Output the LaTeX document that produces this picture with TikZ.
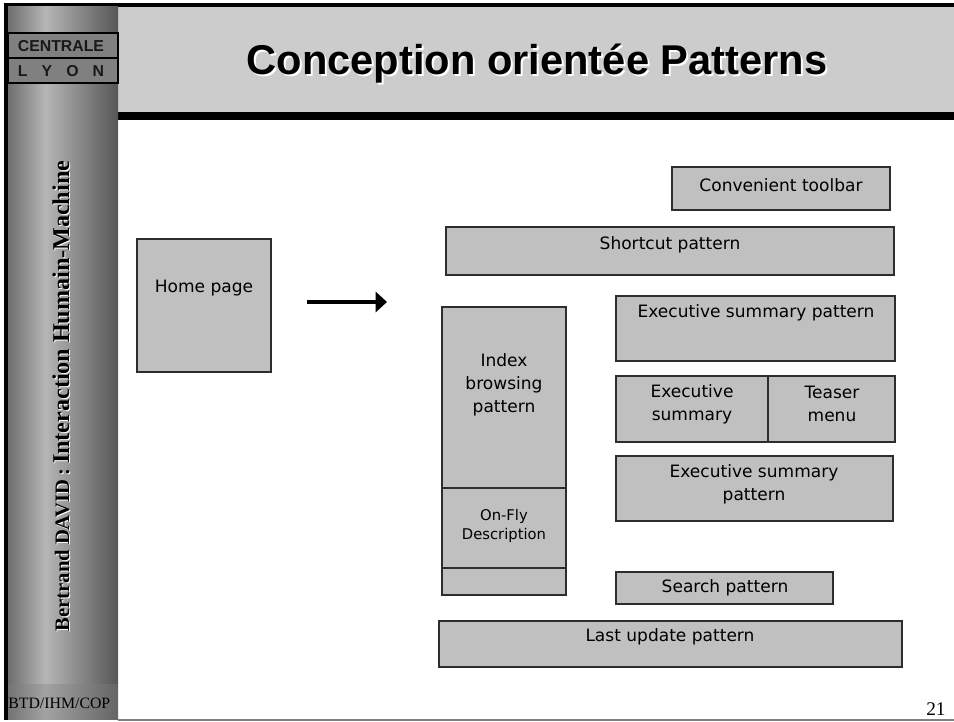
\documentclass[tikz,border=0pt]{standalone}
\usepackage{fontspec}
\setmainfont{Liberation Serif}
\newfontfamily\boxfont{DejaVu Sans}
\newfontfamily\headfont{Liberation Sans}
\usetikzlibrary{arrows.meta}
\definecolor{titlegray}{RGB}{204,204,204}
\definecolor{boxgray}{RGB}{192,192,192}
\definecolor{edgegray}{RGB}{45,45,45}
\definecolor{logogray}{RGB}{128,128,128}
\definecolor{sbleft}{RGB}{110,110,110}
\definecolor{sblight}{RGB}{182,182,182}
\definecolor{sbright}{RGB}{86,86,86}
\pgfdeclarehorizontalshading{sidebar}{100bp}{color(0bp)=(sbleft); color(25bp)=(sbleft); color(42bp)=(sblight); color(75bp)=(sbright); color(100bp)=(sbright)}
\tikzset{
  patbox/.style={draw=edgegray, fill=boxgray, line width=0.6pt},
  boxtext/.style={font=\boxfont\fontsize{9.7}{13}\selectfont, align=center, inner sep=0pt},
  smalltext/.style={font=\boxfont\fontsize{8.4}{11.3}\selectfont, align=center, inner sep=0pt},
  logobox/.style={draw=black, fill=logogray, line width=0.6pt},
  logotext/.style={font=\headfont\bfseries\fontsize{9}{10}\selectfont, text=black!90, inner sep=0pt},
  sidetext/.style={font=\bfseries, rotate=90, inner sep=0pt},
  headtext/.style={font=\headfont\bfseries\fontsize{23.7}{28}\selectfont, inner sep=0pt, anchor=base},
}

\begin{document}
\begin{tikzpicture}[x=0.02cm, y=-0.02cm]
	\useasboundingbox (0,0) rectangle (954,722);
	
	% title band and frame
	\fill[titlegray] (118,7) rectangle (954,112);
	\fill[black] (115,112) rectangle (954,120);
	\fill[black] (4,3) rectangle (954,7);
	\shade[shading=sidebar] (8,7) rectangle (118,720);
	\fill[gray, opacity=0.35] (8,684) rectangle (118,720);
	\fill[black] (4,3) rectangle (8,720);
	\draw[gray, line width=1.1pt] (118,720) -- (954,720);
	
	\node[headtext, white] (titleshadow) at (539,77) {Conception orientée Patterns};
	\node[headtext] (title) at (537,75) {Conception orientée Patterns};
	
	% logo
	\draw[logobox] (8,33) rectangle (118,58);
	\draw[logobox] (8,58) rectangle (118,83);
	\node[logotext] (centrale) at (61,46) {CENTRALE};
	\node[logotext] (lyon) at (61,71) {\makebox[49pt][s]{L Y O N}};
	
	% side text
	\node[sidetext, white] (authorshadow) at (62,397) {{\fontsize{11.7}{12}\selectfont Bertrand DAVID :} {\fontsize{13.7}{14}\selectfont Interaction Humain-Machine}};
	\node[sidetext] (author) at (61,396) {{\fontsize{11.7}{12}\selectfont Bertrand DAVID :} {\fontsize{13.7}{14}\selectfont Interaction Humain-Machine}};
	\node[anchor=base west, inner sep=0pt, font=\fontsize{9}{10}\selectfont] (course) at (8,709) {BTD/IHM/COP};
	\node[anchor=base east, inner sep=0pt, font=\fontsize{11}{12}\selectfont] (pagenum) at (946,716) {21};
	
	% home page
	\draw[patbox] (137,239) rectangle (271,372);
	\node[boxtext] (home) at (204,288) {Home page};
	
	\coordinate (arrowstart) at (307,302);
	\coordinate (arrowend) at (387,302);
	\draw[line width=2.3pt, -{Triangle[length=6.5pt,width=11.5pt]}] (arrowstart) -- (arrowend);
	
	% patterns
	\draw[patbox] (672,167) rectangle (890,210);
	\node[boxtext] (toolbar) at (781,185) {Convenient toolbar};
	
	\draw[patbox] (446,227) rectangle (894,275);
	\node[boxtext] (shortcut) at (670,245) {Shortcut pattern};
	
	\draw[patbox] (442,307) rectangle (566,488);
	\draw[patbox] (442,488) rectangle (566,568);
	\draw[patbox] (442,568) rectangle (566,595);
	\node[boxtext] (index) at (504,385) {Index\\browsing\\pattern};
	\node[smalltext] (onfly) at (504,526) {On-Fly\\Description};
	
	\draw[patbox] (616,296) rectangle (895,361);
	\node[boxtext] (summarytop) at (756,313) {Executive summary pattern};
	
	\draw[patbox] (616,376) rectangle (768,442);
	\draw[patbox] (768,376) rectangle (895,442);
	\node[boxtext] (summary) at (692,404) {Executive\\summary};
	\node[boxtext] (teaser) at (832,404) {Teaser\\menu};
	
	\draw[patbox] (616,456) rectangle (893,521);
	\node[boxtext] (summarylow) at (754,484) {Executive summary\\pattern};
	
	\draw[patbox] (616,572) rectangle (833,604);
	\node[boxtext] (search) at (725,588) {Search pattern};
	
	\draw[patbox] (439,621) rectangle (902,667);
	\node[boxtext] (lastupdate) at (670,637) {Last update pattern};
\end{tikzpicture}
\end{document}
